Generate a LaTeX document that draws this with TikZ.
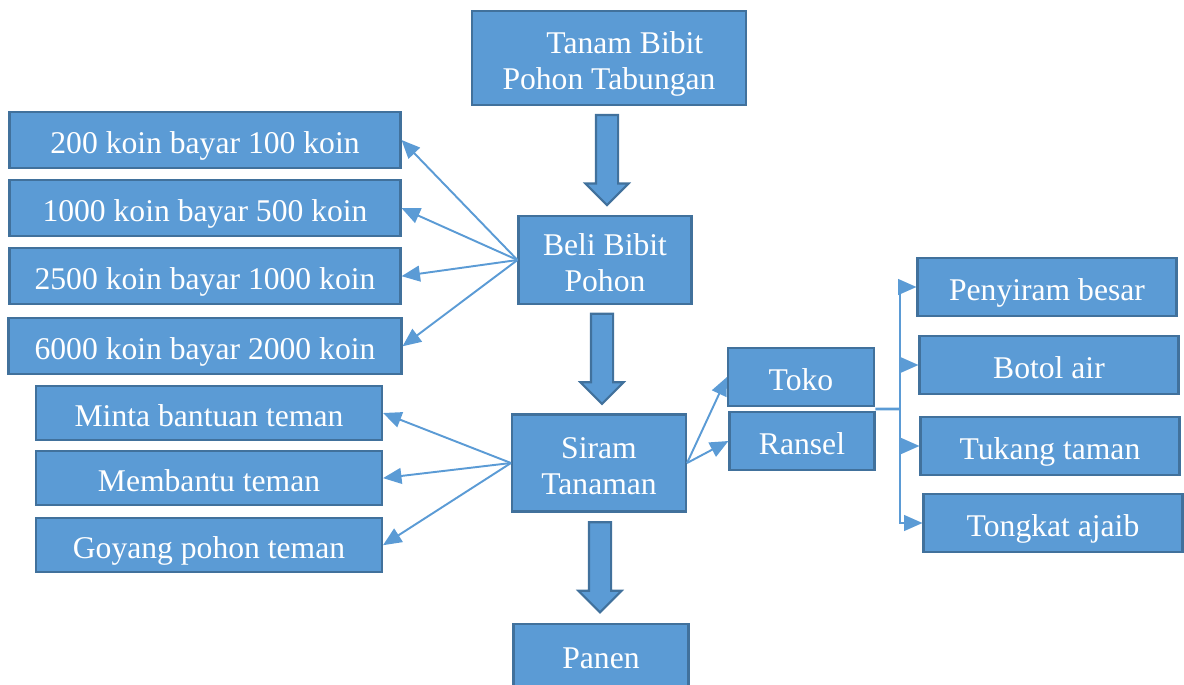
\documentclass[tikz,border=0pt]{standalone}
\usepackage{fontspec}
\setmainfont{Liberation Serif}
\usetikzlibrary{arrows.meta}
\usetikzlibrary{calc}
\usetikzlibrary{positioning}
\usetikzlibrary{shapes.arrows}
\definecolor{boxblue}{HTML}{5B9BD5}
\definecolor{boxedge}{HTML}{41719C}

\begin{document}
\begin{tikzpicture}
[
	x			= 0.02cm,
	y			= -0.02cm,
	Box/.style	= {draw = boxedge, fill = boxblue, line width = 1.2pt, text = white, font = \fontsize{18}{20.5}\selectfont, align = center, inner sep = 0cm, text height = 19pt, text depth = 4pt},
	TwoLine/.style	= {text height = 38.5pt, text depth = 2.5pt},
	Link/.style	= {draw = boxblue, line width = 1.1pt, -{Triangle[length = 10.5pt, width = 9pt]}},
	DownArrow/.style = {single arrow, draw = boxedge, fill = boxblue, line width = 1.2pt, rotate = -90, minimum height = 1.8cm, inner sep = 0.2cm, single arrow head extend = 0.21cm, single arrow head indent = 0cm},
]

	\useasboundingbox (0,0) rectangle (1184,684);

	% main column
	\node (tanam) [Box, TwoLine, minimum width = 5.48cm, minimum height = 1.88cm] at (609,58) {\hspace*{1em}Tanam Bibit \\ Pohon Tabungan};
	\node (beli) [Box, TwoLine, minimum width = 3.46cm, minimum height = 1.76cm] at (605,260) {Beli Bibit \\ Pohon};
	\node (siram) [Box, TwoLine, minimum width = 3.48cm, minimum height = 1.94cm] at (599,463) {Siram \\ Tanaman};
	\node (panen) [Box, minimum width = 3.5cm, minimum height = 1.24cm] at (601,655) {Panen};

	\node (a1) [DownArrow] at ($(tanam.south)!0.5!(beli.north) + (0,-6)$) {};
	\node (a2) [DownArrow] at ($(beli.south)!0.5!(siram.north) + (0,-6)$) {};
	\node (a3) [DownArrow] at ($(siram.south)!0.5!(panen.north) + (0,-6)$) {};

	% price boxes
	\node (k1) [Box, minimum width = 7.82cm, minimum height = 1.12cm] at (205,140) {200 koin bayar 100 koin};
	\node (k2) [Box, minimum width = 7.82cm, minimum height = 1.12cm, below = 0.2cm of k1] {1000 koin bayar 500 koin};
	\node (k3) [Box, minimum width = 7.82cm, minimum height = 1.12cm, below = 0.2cm of k2] {2500 koin bayar 1000 koin};
	\node (k4) [Box, minimum width = 7.86cm, minimum height = 1.12cm, below = 0.24cm of k3] {6000 koin bayar 2000 koin};

	% friend boxes
	\node (t1) [Box, minimum width = 6.92cm, minimum height = 1.08cm] at (209,413) {Minta bantuan teman};
	\node (t2) [Box, minimum width = 6.92cm, minimum height = 1.08cm, below = 0.18cm of t1] {Membantu teman};
	\node (t3) [Box, minimum width = 6.92cm, minimum height = 1.08cm, below = 0.22cm of t2] {Goyang pohon teman};

	% shop and bag
	\node (toko) [Box, minimum width = 2.92cm, minimum height = 1.16cm] at (801,377) {Toko};
	\node (ransel) [Box, minimum width = 2.9cm, minimum height = 1.16cm] at (802,441) {Ransel};

	% items
	\node (r1) [Box, minimum width = 5.18cm, minimum height = 1.16cm] at (1047,287) {Penyiram besar};
	\node (r2) [Box, minimum width = 5.18cm, minimum height = 1.16cm] at (1049,365) {Botol air};
	\node (r3) [Box, minimum width = 5.18cm, minimum height = 1.16cm] at (1050,446) {Tukang taman};
	\node (r4) [Box, minimum width = 5.18cm, minimum height = 1.16cm] at (1053,523) {Tongkat ajaib};

	\draw [Link] (beli.west) -- (k1.east);
	\draw [Link] (beli.west) -- (k2.east);
	\draw [Link] (beli.west) -- (k3.east);
	\draw [Link] (beli.west) -- (k4.east);

	\draw [Link] (siram.west) -- (t1.east);
	\draw [Link] (siram.west) -- (t2.east);
	\draw [Link] (siram.west) -- (t3.east);

	\draw [Link] (siram.east) -- (toko.west);
	\draw [Link] (siram.east) -- (ransel.west);

	% bracket to the items
	\coordinate (hub) at (900,409);
	\draw [draw = boxblue, line width = 1.6pt] ($(toko.south east)!0.5!(ransel.north east)$) -- (hub);
	\draw [Link] (hub) |- (r1.west);
	\draw [Link] (hub) |- (r2.west);
	\draw [Link] (hub) |- (r3.west);
	\draw [Link] (hub) |- (r4.west);

\end{tikzpicture}
\end{document}
